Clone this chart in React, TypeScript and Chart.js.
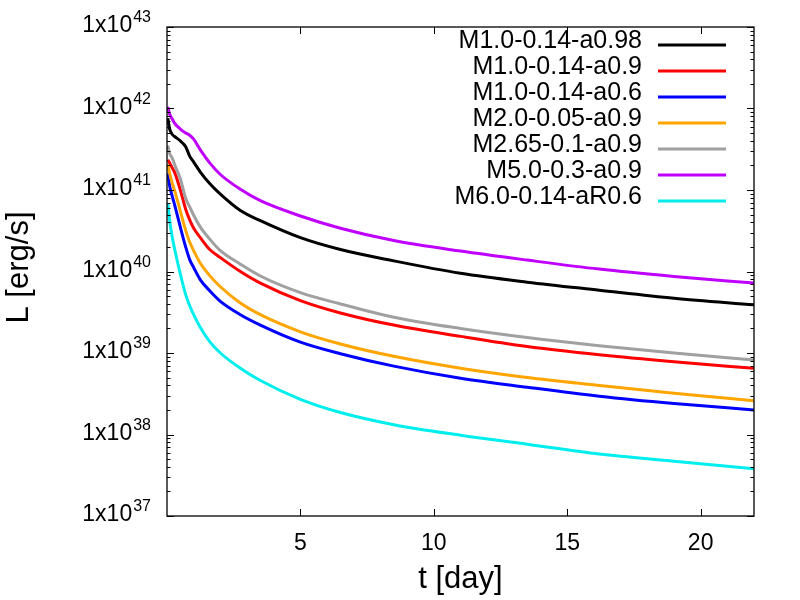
import React, { useEffect, useRef } from 'react';
import { Chart, registerables } from 'chart.js';

Chart.register(...registerables);

// times, in days
const T_DAYS = [0.03, 0.1, 0.2, 0.3, 0.5, 0.7, 0.85, 1.0, 1.25, 1.6, 2.0, 2.75, 3.5, 5, 6.5, 8.5, 11, 13.5, 16.2, 19, 22];

// luminosities [erg/s], one array per model
const L_M10_014_A098 = [7.6e41, 5.6e41, 4.8e41, 4.5e41, 4.0e41, 3.4e41, 2.6e41, 2.2e41, 1.66e41, 1.2e41, 8.9e40, 5.6e40, 4.2e40, 2.6e40, 1.86e40, 1.35e40, 9.5e39, 7.4e39, 5.9e39, 4.7e39, 3.9e39];
const L_M10_014_A09 = [2.35e41, 2.15e41, 1.86e41, 1.6e41, 1.0e41, 5.8e40, 4.3e40, 3.4e40, 2.6e40, 1.86e40, 1.48e40, 1.0e40, 7.2e39, 4.4e39, 3.1e39, 2.2e39, 1.6e39, 1.2e39, 9.5e38, 7.8e38, 6.5e38];
const L_M10_014_A06 = [1.6e41, 1.12e41, 8.3e40, 6.3e40, 3.5e40, 2.0e40, 1.4e40, 1.12e40, 7.9e39, 5.8e39, 4.3e39, 2.95e39, 2.2e39, 1.36e39, 9.8e38, 6.9e38, 4.9e38, 3.8e38, 2.95e38, 2.4e38, 2.0e38];
const L_M20_005_A09 = [2.05e41, 1.6e41, 1.2e41, 9.5e40, 5.5e40, 3.2e40, 2.3e40, 1.8e40, 1.26e40, 8.9e39, 6.5e39, 4.1e39, 2.95e39, 1.82e39, 1.29e39, 9.1e38, 6.5e38, 5.0e38, 4.0e38, 3.2e38, 2.6e38];
const L_M265_01_A09 = [3.5e41, 2.8e41, 2.45e41, 2.0e41, 1.38e41, 7.9e40, 6.2e40, 4.9e40, 3.5e40, 2.5e40, 1.8e40, 1.23e40, 8.8e39, 5.5e39, 4.0e39, 2.75e39, 2.0e39, 1.55e39, 1.23e39, 1.0e39, 8.2e38];
const L_M50_03_A09 = [1.05e42, 8.5e41, 7.4e41, 6.5e41, 5.6e41, 5.0e41, 4.7e41, 4.2e41, 3.1e41, 2.15e41, 1.55e41, 1.02e41, 7.4e40, 4.8e40, 3.4e40, 2.4e40, 1.78e40, 1.38e40, 1.07e40, 8.7e39, 7.2e39];
const L_M60_014_AR06 = [6.9e40, 4.2e40, 2.6e40, 1.8e40, 9.3e39, 5.2e39, 3.8e39, 2.95e39, 2.05e39, 1.38e39, 1.0e39, 6.5e38, 4.6e38, 2.7e38, 1.86e38, 1.32e38, 9.8e37, 7.6e37, 5.75e37, 4.7e37, 3.8e37];

const SERIES_LABELS = ['M1.0-0.14-a0.98', 'M1.0-0.14-a0.9', 'M1.0-0.14-a0.6', 'M2.0-0.05-a0.9', 'M2.65-0.1-a0.9', 'M5.0-0.3-a0.9', 'M6.0-0.14-aR0.6'];
const SERIES_VALUES = [L_M10_014_A098, L_M10_014_A09, L_M10_014_A06, L_M20_005_A09, L_M265_01_A09, L_M50_03_A09, L_M60_014_AR06];
const SERIES_COLORS = ['#000000', '#ff0000', '#0000ff', '#ffa500', '#a0a0a0', '#c000ff', '#00eeee'];

// y tick exponents (1x10^n) and x tick values
const Y_EXPONENTS = [37, 38, 39, 40, 41, 42, 43];
const X_TICKS = [5, 10, 15, 20];

const FONT = "'Liberation Sans', Arial, Helvetica, sans-serif";

const gnuplotFrame = {
    id: 'gnuplotFrame',
    afterDraw(chart: any) {
        const { ctx, chartArea: a, scales } = chart;
        const xs = scales.x;
        const ys = scales.y;
        const seg = (x1: number, y1: number, x2: number, y2: number) => {
            ctx.beginPath();
            ctx.moveTo(x1, y1);
            ctx.lineTo(x2, y2);
            ctx.stroke();
        };

        ctx.save();
        ctx.strokeStyle = '#000';
        ctx.fillStyle = '#000';

        // ticks, pointing inward, mirrored on top / right
        ctx.lineWidth = 1;
        for (const v of X_TICKS) {
            const px = Math.round(xs.getPixelForValue(v)) + 0.5;
            seg(px, a.bottom, px, a.bottom - 7);
            seg(px, a.top, px, a.top + 7);
        }
        for (const e of Y_EXPONENTS) {
            const py = Math.round(ys.getPixelForValue(Math.pow(10, e))) + 0.5;
            seg(a.left, py, a.left + 7, py);
            seg(a.right, py, a.right - 7, py);
            if (e === Y_EXPONENTS[Y_EXPONENTS.length - 1]) continue;
            for (let m = 2; m <= 9; m++) {
                const pm = Math.round(ys.getPixelForValue(m * Math.pow(10, e))) + 0.5;
                seg(a.left, pm, a.left + 3.5, pm);
                seg(a.right, pm, a.right - 3.5, pm);
            }
        }

        // border box
        ctx.lineWidth = 1.3;
        ctx.strokeRect(a.left, a.top, a.right - a.left, a.bottom - a.top);

        // y tick labels with superscripts
        ctx.textBaseline = 'alphabetic';
        const labelRight = a.left - 16;
        for (const e of Y_EXPONENTS) {
            const py = ys.getPixelForValue(Math.pow(10, e));
            ctx.font = `16px ${FONT}`;
            const sup = String(e);
            const supW = ctx.measureText(sup).width;
            ctx.textAlign = 'left';
            ctx.fillText(sup, labelRight - supW, py - 5);
            ctx.font = `23px ${FONT}`;
            ctx.textAlign = 'right';
            ctx.fillText('1x10', labelRight - supW - 1, py + 5);
        }

        // x tick labels
        ctx.font = `23px ${FONT}`;
        ctx.textAlign = 'center';
        ctx.textBaseline = 'middle';
        for (const v of X_TICKS) {
            ctx.fillText(String(v), xs.getPixelForValue(v), a.bottom + 28);
        }

        // axis titles
        ctx.font = `31px ${FONT}`;
        ctx.textBaseline = 'alphabetic';
        ctx.fillText('t [day]', (a.left + a.right) / 2, a.bottom + 72);
        ctx.save();
        ctx.translate(28, (a.top + a.bottom) / 2 - 4);
        ctx.rotate(-Math.PI / 2);
        ctx.fillText('L [erg/s]', 0, 0);
        ctx.restore();

        // key, top right, text right-aligned with sample line after it
        ctx.font = `25px ${FONT}`;
        ctx.textAlign = 'right';
        chart.data.datasets.forEach((ds: any, i: number) => {
            const ly = a.top + 18 + i * 26;
            ctx.fillStyle = '#000';
            ctx.fillText(ds.label, a.right - 112, ly + 3);
            ctx.strokeStyle = ds.borderColor;
            ctx.lineWidth = 3;
            seg(a.right - 96, ly, a.right - 28, ly);
        });

        ctx.restore();
    }
};

const App: React.FC = () => {
    const chartRef = useRef<HTMLCanvasElement>(null);
    const chartInstance = useRef<Chart | null>(null);

    useEffect(() => {
        if (!chartRef.current) return;
        const ctx = chartRef.current.getContext('2d');
        if (!ctx) return;
        if (chartInstance.current) chartInstance.current.destroy();

        chartInstance.current = new Chart(ctx, {
            type: 'line',
            data: {
                datasets: SERIES_LABELS.map((label, i) => ({
                    label,
                    data: T_DAYS.map((t, k) => ({ x: t, y: SERIES_VALUES[i][k] })),
                    borderColor: SERIES_COLORS[i],
                    backgroundColor: SERIES_COLORS[i],
                    borderWidth: 3,
                    pointRadius: 0,
                    cubicInterpolationMode: 'monotone' as const,
                    fill: false,
                    order: SERIES_LABELS.length - i,
                })),
            },
            options: {
                animation: false,
                responsive: true,
                maintainAspectRatio: false,
                layout: { padding: { top: 27, right: 46, left: 0, bottom: 0 } },
                plugins: {
                    legend: { display: false },
                    tooltip: { enabled: false },
                },
                scales: {
                    x: {
                        type: 'linear',
                        min: 0,
                        max: 22,
                        ticks: { display: false, stepSize: 5 },
                        grid: { display: false },
                        border: { display: false },
                        afterFit: (s: any) => { s.height = 84; },
                    },
                    y: {
                        type: 'logarithmic',
                        min: 1e37,
                        max: 1e43,
                        ticks: { display: false },
                        grid: { display: false },
                        border: { display: false },
                        afterFit: (s: any) => { s.width = 167; },
                    },
                },
            },
            plugins: [gnuplotFrame],
        });

        return () => {
            if (chartInstance.current) {
                chartInstance.current.destroy();
                chartInstance.current = null;
            }
        };
    }, []);

    return (
        <div style={{ position: 'fixed', left: 0, top: 0, width: 800, height: 600, background: '#fff' }}>
            <canvas ref={chartRef}></canvas>
        </div>
    );
};

export default App;
